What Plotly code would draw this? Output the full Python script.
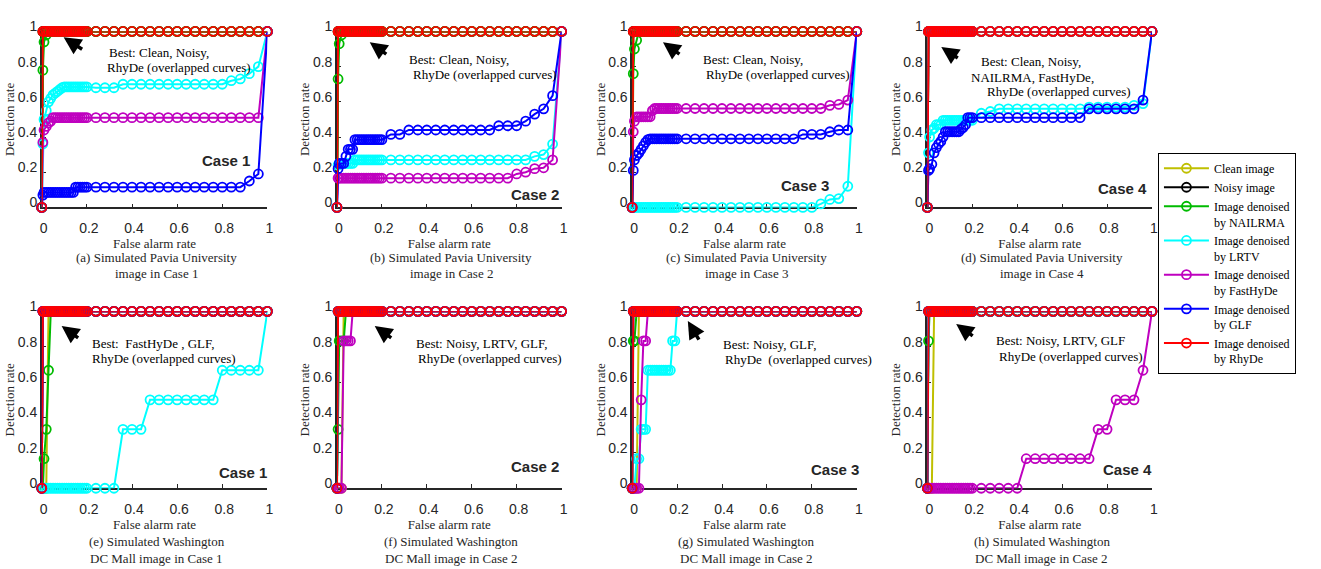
import plotly.graph_objects as go

# ---------------- data ----------------
# false alarm rate sampling points (marker positions)
FAR = [0, 0.005, 0.01, 0.02, 0.03, 0.04, 0.05, 0.06, 0.07, 0.08, 0.09, 0.10,
       0.11, 0.12, 0.13, 0.14, 0.15, 0.16, 0.17, 0.18, 0.19, 0.20,
       0.24, 0.28, 0.32, 0.36, 0.40, 0.44, 0.48, 0.52, 0.56, 0.60, 0.64,
       0.68, 0.72, 0.76, 0.80, 0.84, 0.88, 0.92, 0.96, 1.0]

# detection rates, written as (value, number of consecutive points)
IDEAL = [(0, 1), (1, 41)]
LATE_CLEAN = [(0, 4), (1, 38)]

# (a) Pavia, Case 1
NAIL_A = [(0, 1), (0.78, 1), (0.94, 1), (0.98, 1), (1, 38)]
LRTV_A = [(0, 1), (0.36, 1), (0.50, 1), (0.55, 1), (0.60, 1), (0.62, 1), (0.64, 1), (0.65, 1),
          (0.66, 1), (0.67, 1), (0.68, 1), (0.685, 11), (0.68, 3), (0.70, 12), (0.72, 1),
          (0.73, 1), (0.76, 1), (0.80, 1), (1, 1)]
FHD_A = [(0, 1), (0.37, 1), (0.44, 1), (0.46, 1), (0.48, 1), (0.49, 1), (0.51, 35), (1, 1)]
GLF_A = [(0, 1), (0.07, 1), (0.085, 14), (0.115, 23), (0.15, 1), (0.19, 1), (1, 1)]

# (b) Pavia, Case 2
NAIL_B = [(0, 1), (0.73, 1), (0.93, 1), (0.98, 1), (1, 38)]
LRTV_B = [(0, 1), (0.24, 1), (0.25, 7), (0.27, 29), (0.29, 1), (0.30, 1), (0.36, 1), (1, 1)]
FHD_B = [(0, 1), (0.166, 35), (0.19, 1), (0.20, 1), (0.22, 1), (0.225, 1), (0.27, 1), (1, 1)]
GLF_B = [(0, 1), (0.22, 1), (0.25, 3), (0.29, 1), (0.33, 3), (0.385, 13), (0.415, 2), (0.44, 10),
         (0.464, 3), (0.49, 1), (0.53, 1), (0.56, 1), (0.635, 1), (1, 1)]

# (c) Pavia, Case 3
NAIL_C = [(0, 1), (0.76, 1), (0.90, 1), (0.95, 1), (1, 38)]
LRTV_C = [(0, 37), (0.02, 1), (0.045, 1), (0.05, 1), (0.12, 1), (1, 1)]
FHD_C = [(0, 1), (0.43, 1), (0.49, 1), (0.515, 7), (0.55, 1), (0.562, 27), (0.58, 1), (0.585, 1),
         (0.61, 1), (1, 1)]
GLF_C = [(0, 1), (0.21, 1), (0.27, 1), (0.295, 1), (0.31, 1), (0.33, 1), (0.35, 1), (0.37, 1),
         (0.385, 1), (0.39, 26), (0.415, 3), (0.43, 1), (0.44, 2), (1, 1)]

# (d) Pavia, Case 4
LRTV_D = [(0, 1), (0.31, 1), (0.40, 1), (0.44, 1), (0.45, 1), (0.47, 3), (0.495, 14), (0.535, 1),
          (0.545, 1), (0.56, 10), (0.57, 5), (0.58, 1), (0.59, 1), (1, 1)]
GLF_D = [(0, 1), (0.21, 1), (0.22, 1), (0.245, 1), (0.31, 1), (0.34, 1), (0.36, 1), (0.375, 1),
         (0.40, 1), (0.43, 7), (0.445, 1), (0.455, 1), (0.47, 1), (0.51, 15), (0.56, 6), (0.61, 1),
         (1, 1)]

# (e) Washington DC Mall, Case 1
NAIL_E = [(0, 2), (0.167, 1), (0.333, 1), (0.667, 1), (1, 37)]
LRTV_E = [(0, 25), (0.333, 3), (0.5, 8), (0.667, 5), (1, 1)]

# (f) Washington DC Mall, Case 2
NAIL_F = [(0, 1), (0.333, 1), (0.833, 3), (1, 37)]
FHD_F = [(0, 4), (0.833, 4), (1, 34)]

# (g) Washington DC Mall, Case 3
NAIL_G = [(0, 1), (0.833, 2), (1, 39)]
LRTV_G = [(0, 3), (0.167, 2), (0.333, 3), (0.667, 11), (0.833, 2), (1, 21)]
FHD_G = [(0, 5), (0.5, 1), (0.833, 2), (1, 34)]

# (h) Washington DC Mall, Case 4
NAIL_H = [(0, 1), (0.833, 1), (1, 40)]
FHD_H = [(0, 27), (0.167, 8), (0.333, 2), (0.5, 3), (0.667, 1), (1, 1)]

METHODS = ["Clean image", "Noisy image", "Image denoised<br>by NAILRMA",
           "Image denoised<br>by LRTV", "Image denoised<br>by FastHyDe",
           "Image denoised<br>by GLF", "Image denoised<br>by RhyDe"]
COLORS = ["#bfbf00", "#000000", "#00bb00", "#00ffff", "#bf00bf", "#0000ff", "#ff0000"]

PANELS = [
    [IDEAL, IDEAL, NAIL_A, LRTV_A, FHD_A, GLF_A, IDEAL],
    [IDEAL, IDEAL, NAIL_B, LRTV_B, FHD_B, GLF_B, IDEAL],
    [IDEAL, IDEAL, NAIL_C, LRTV_C, FHD_C, GLF_C, IDEAL],
    [IDEAL, IDEAL, IDEAL, LRTV_D, IDEAL, GLF_D, IDEAL],
    [LATE_CLEAN, IDEAL, NAIL_E, LRTV_E, IDEAL, IDEAL, IDEAL],
    [LATE_CLEAN, IDEAL, NAIL_F, IDEAL, FHD_F, IDEAL, IDEAL],
    [LATE_CLEAN, IDEAL, NAIL_G, LRTV_G, FHD_G, IDEAL, IDEAL],
    [LATE_CLEAN, IDEAL, NAIL_H, IDEAL, FHD_H, IDEAL, IDEAL],
]

BEST_TEXT = [
    ["Best: Clean, Noisy,", "RhyDe (overlapped curves)"],
    ["Best: Clean, Noisy,", "RhyDe (overlapped curves)"],
    ["Best: Clean, Noisy,", "RhyDe (overlapped curves)"],
    ["Best: Clean, Noisy,", "NAILRMA, FastHyDe,", "RhyDe (overlapped curves)"],
    ["Best:  FastHyDe , GLF,", "RhyDe (overlapped curves)"],
    ["Best: Noisy, LRTV, GLF,", "RhyDe (overlapped curves)"],
    ["Best: Noisy, GLF,", "RhyDe  (overlapped curves)"],
    ["Best: Noisy, LRTV, GLF", "RhyDe (overlapped curves)"],
]
CASE_TEXT = ["Case 1", "Case 2", "Case 3", "Case 4", "Case 1", "Case 2", "Case 3", "Case 4"]
CAPTIONS = [
    ["(a) Simulated Pavia University", "image in Case 1"],
    ["(b) Simulated Pavia University", "image in Case 2"],
    ["(c) Simulated Pavia University", "image in Case 3"],
    ["(d) Simulated Pavia University", "image in Case 4"],
    ["(e) Simulated Washington", "DC Mall image in Case 1"],
    ["(f) Simulated Washington", "DC Mall image in Case 2"],
    ["(g) Simulated Washington", "DC Mall image in Case 2"],
    ["(h) Simulated Washington", "DC Mall image in Case 2"],
]
TICKS = [0, 0.2, 0.4, 0.6, 0.8, 1]
TICK_TEXT = ["0", "0.2", "0.4", "0.6", "0.8", "1"]

# ---------------- layout geometry (pixels) ----------------
W, H = 1321, 569
COL_X = [(40, 267), (337, 563), (634, 860), (931, 1157)]
ROW_Y = [(19, 200), (307, 489)]
BEST_POS = [  # (left x, centre y) of each text line
    [(106, 41), (104, 56)],
    [(407, 48), (411, 63)],
    [(703, 48), (706, 63)],
    [(983, 50), (973, 66), (989, 81)],
    [(89, 340), (89, 356)],
    [(415, 340), (417, 356)],
    [(723, 341), (725, 357)],
    [(998, 337), (1001, 353)],
]
CASE_POS = [(225, 152), (536, 187), (808, 178), (1127, 181),
            (242, 473), (536, 467), (838, 470), (1132, 470)]
ARROWS = [  # head (px), tail offset (px)
    ((62, 25), (20, 13)), ((370, 30), (18, 13)), ((665, 30), (18, 13)), ((945, 35), (18, 12)),
    ((60, 322), (18, 13)), ((375, 322), (18, 13)), ((690, 317), (12, 20)), ((960, 320), (18, 13)),
]

SERIF = "Liberation Serif, Times New Roman, serif"
SANS = "Liberation Sans, Arial, sans-serif"


def expand(runs):
    out = []
    for v, n in runs:
        out.extend([v] * n)
    return out


def px(x):
    return x / W


def py(y):
    return 1 - y / H


fig = go.Figure()
layout = dict(width=W, height=H, margin=dict(l=0, r=0, t=0, b=0),
              paper_bgcolor="white", plot_bgcolor="white", showlegend=True)
annotations = []

for i, curves in enumerate(PANELS):
    r, c = divmod(i, 4)
    n = i + 1
    xa = "x" if n == 1 else f"x{n}"
    ya = "y" if n == 1 else f"y{n}"
    for k, runs in enumerate(curves):
        fig.add_trace(go.Scatter(
            x=FAR, y=expand(runs), xaxis=xa, yaxis=ya,
            mode="lines+markers", name=METHODS[k], showlegend=(i == 0),
            line=dict(color=COLORS[k], width=2),
            marker=dict(symbol="circle-open", size=9, color=COLORS[k], line=dict(width=1.8)),
            cliponaxis=False, hoverinfo="skip"))
    x0, x1 = COL_X[c]
    y1, y0 = ROW_Y[r]
    common = dict(range=[0, 1], tickvals=TICKS, ticktext=TICK_TEXT, ticks="inside", ticklen=4,
                  tickwidth=1, tickcolor="#262626", showline=True, linecolor="#262626",
                  linewidth=1.5, showgrid=False, zeroline=False, layer="below traces",
                  tickfont=dict(family=SANS, size=14, color="#262626"), fixedrange=True)
    layout["xaxis" if n == 1 else f"xaxis{n}"] = dict(
        common, domain=[px(x0), px(x1)], anchor=ya, ticklabelshift=2, ticklabelstandoff=7,
        title=dict(text="False alarm rate", font=dict(family=SERIF, size=13, color="#262626"),
                   standoff=2))
    layout["yaxis" if n == 1 else f"yaxis{n}"] = dict(
        common, domain=[py(y0), py(y1)], anchor=xa, ticklabelshift=-5,
        title=dict(text="Detection rate", font=dict(family=SERIF, size=13, color="#262626"),
                   standoff=0))

    # "Best ..." notes
    for txt, (lx, ly) in zip(BEST_TEXT[i], BEST_POS[i]):
        annotations.append(dict(text=txt, xref="paper", yref="paper", x=px(lx), y=py(ly),
                                xanchor="left", yanchor="middle", showarrow=False,
                                font=dict(family=SERIF, size=13, color="black")))
    # Case label
    cx, cy = CASE_POS[i]
    annotations.append(dict(text="<b>" + CASE_TEXT[i] + "</b>", xref="paper", yref="paper",
                            x=px(cx), y=py(cy), xanchor="center", yanchor="middle",
                            showarrow=False, font=dict(family=SANS, size=15, color="#262626")))
    # arrow
    (hx, hy), (dx, dy) = ARROWS[i]
    annotations.append(dict(text="", xref="paper", yref="paper", x=px(hx), y=py(hy),
                            ax=dx, ay=dy, showarrow=True, arrowhead=2, arrowsize=1,
                            arrowwidth=3.5, arrowcolor="black", standoff=0, startstandoff=0))
    # captions
    ccx = (x0 + x1) / 2 + 2
    cap_y = [252, 268] if r == 0 else [544, 561]
    for txt, yy in zip(CAPTIONS[i], cap_y):
        annotations.append(dict(text=txt, xref="paper", yref="paper", x=px(ccx), y=py(yy),
                                xanchor="center", yanchor="middle", showarrow=False,
                                font=dict(family=SERIF, size=13, color="#262626")))

layout["annotations"] = annotations
layout["legend"] = dict(x=px(1163), y=py(144), xanchor="left", yanchor="top",
                        bordercolor="black", borderwidth=1, bgcolor="white",
                        font=dict(family=SERIF, size=12, color="black"), itemwidth=45,
                        tracegroupgap=0, valign="top", itemclick=False, itemdoubleclick=False)
fig.update_layout(**layout)
fig.write_html("out.html")
